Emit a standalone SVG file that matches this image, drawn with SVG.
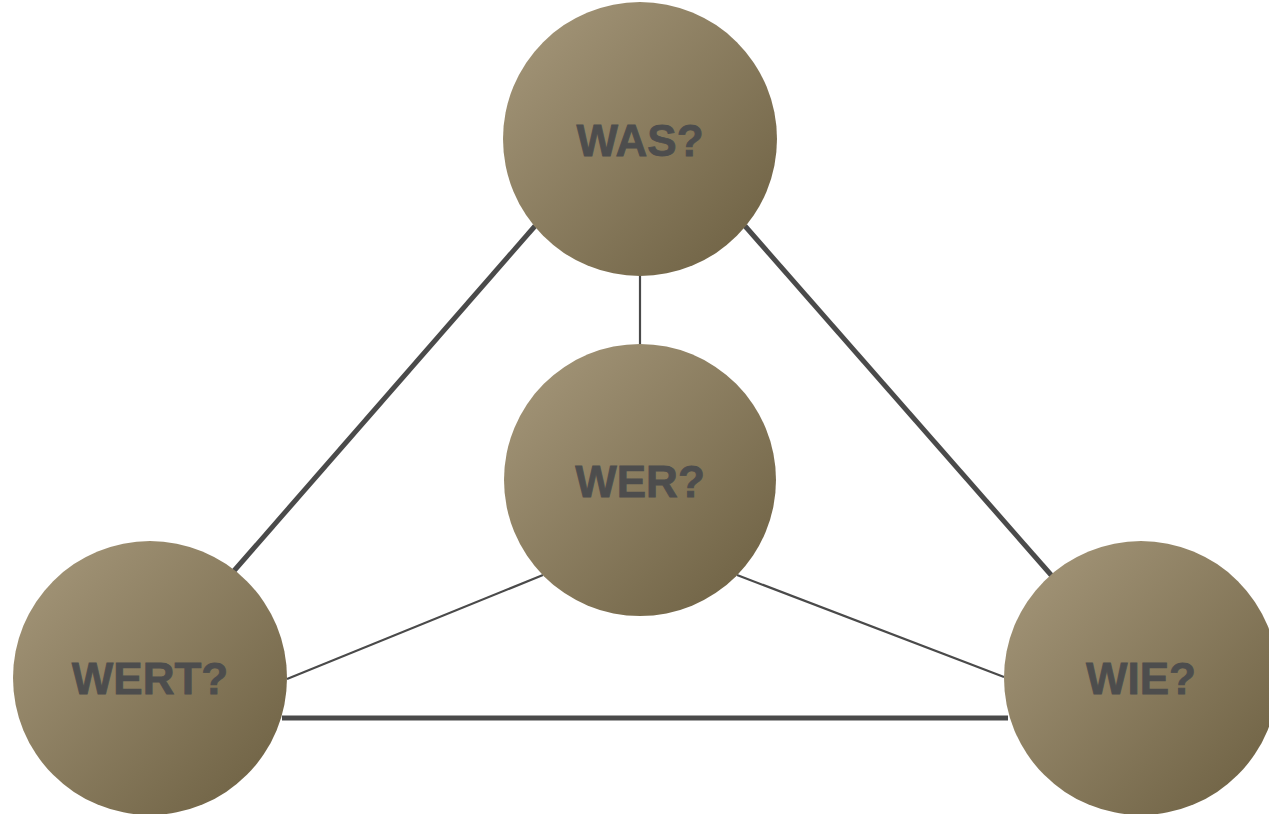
<svg xmlns="http://www.w3.org/2000/svg" width="1269" height="814" viewBox="0 0 1269 814">
<defs>
<linearGradient id="g" x1="0.1" y1="0.1" x2="0.9" y2="0.9">
<stop offset="0" stop-color="#a19376"/>
<stop offset="1" stop-color="#716446"/>
</linearGradient>
<style>
.node circle{fill:url(#g);}
.node text{font-family:"Liberation Sans",Arial,sans-serif;font-weight:bold;font-size:44px;fill:#4d4d4d;text-anchor:middle;stroke:#4d4d4d;stroke-width:0.8;}
.thick{stroke:#4a4a4a;stroke-width:5;fill:none;}
.thin{stroke:#4a4a4a;stroke-width:2.2;fill:none;}
</style>
</defs>
<rect width="1269" height="814" fill="#ffffff"/>
<g id="connectors">
<line class="thick" x1="535" y1="226" x2="233" y2="572"/>
<line class="thick" x1="745" y1="226" x2="1052" y2="576"/>
<line class="thick" x1="282" y1="718" x2="1008" y2="718"/>
<line class="thin" x1="640" y1="272" x2="640" y2="346"/>
<line class="thin" x1="543" y1="575" x2="287" y2="679"/>
<line class="thin" x1="737" y1="575" x2="1004" y2="677"/>
</g>
<g id="was" class="node">
<circle cx="640" cy="139" r="137"/>
<text x="640" y="156">WAS?</text>
</g>
<g id="wer" class="node">
<circle cx="640" cy="480" r="136"/>
<text x="640" y="497">WER?</text>
</g>
<g id="wert" class="node">
<circle cx="150" cy="678" r="137"/>
<text x="150" y="694">WERT?</text>
</g>
<g id="wie" class="node">
<circle cx="1141" cy="678" r="137"/>
<text x="1141" y="694">WIE?</text>
</g>
</svg>
